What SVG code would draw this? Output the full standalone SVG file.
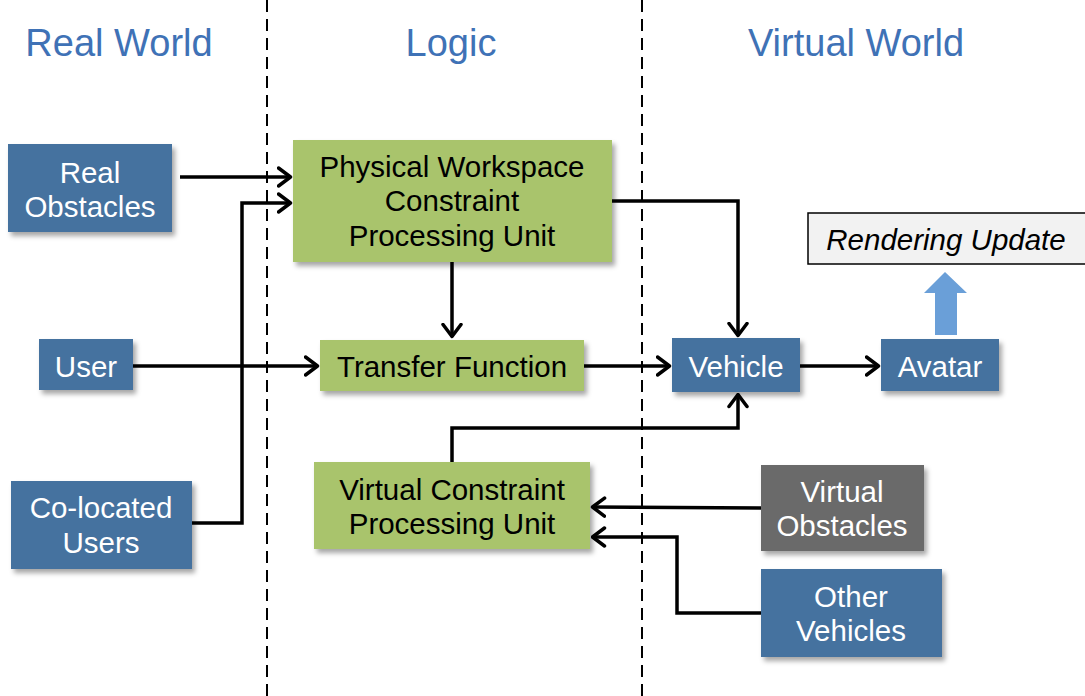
<svg xmlns="http://www.w3.org/2000/svg" width="1085" height="696" viewBox="0 0 1085 696">
<defs>
<filter id="sh" x="-20%" y="-20%" width="140%" height="150%">
<feDropShadow dx="3" dy="4" stdDeviation="2.5" flood-color="#000" flood-opacity="0.35"/>
</filter>
<marker id="ah" viewBox="0 0 16 22" refX="14.5" refY="11" markerWidth="16" markerHeight="22" markerUnits="userSpaceOnUse" orient="auto">
<path d="M2,2 L14,11 L2,20" fill="none" stroke="#000" stroke-width="3.5" stroke-linecap="round" stroke-linejoin="round"/>
</marker>
<style>
.hdr{font-family:"Liberation Sans",Arial,sans-serif;font-size:38px;fill:#3f72b6;text-anchor:middle}
.blue{fill:#44729f;filter:url(#sh)}
.green{fill:#a9c46c;filter:url(#sh)}
.gray{fill:#6a6a6a;filter:url(#sh)}
.wt{font-family:"Liberation Sans",Arial,sans-serif;font-size:29.5px;fill:#fff;text-anchor:middle}
.bt{font-family:"Liberation Sans",Arial,sans-serif;font-size:29.5px;fill:#000;text-anchor:middle}
.dash{stroke:#000;stroke-width:2;stroke-dasharray:12,7;fill:none}
.c{fill:none;stroke:#000;stroke-width:3.5;marker-end:url(#ah)}
</style>
</defs>
<rect width="1085" height="696" fill="#fff"/>
<g id="dividers">
<line class="dash" x1="267" y1="0" x2="267" y2="696"/>
<line class="dash" x1="642" y1="0" x2="642" y2="696"/>
</g>
<g id="headers">
<text class="hdr" x="119" y="56">Real World</text>
<text class="hdr" x="451" y="56">Logic</text>
<text class="hdr" x="856" y="56">Virtual World</text>
</g>
<g id="connectors">
<path class="c" d="M180,177 L291,177"/>
<path class="c" d="M192,523 L242,523 L242,203 L291,203"/>
<path class="c" d="M133,366 L318,366"/>
<path class="c" d="M452,262 L452,337"/>
<path class="c" d="M612,201 L738,201 L738,336"/>
<path class="c" d="M584,366 L670,366"/>
<path class="c" d="M800,366 L879,366"/>
<path class="c" d="M452,462 L452,428 L738,428 L738,394"/>
<path class="c" d="M761,508 L592,507"/>
<path class="c" d="M761,613 L677,613 L677,537 L592,537"/>
</g>
<g id="real-obstacles">
<rect class="blue" x="8" y="144" width="164" height="88"/>
<text class="wt" x="90" y="183">Real</text>
<text class="wt" x="90" y="217">Obstacles</text>
</g>
<g id="user">
<rect class="blue" x="39" y="339" width="94" height="51"/>
<text class="wt" x="86" y="377">User</text>
</g>
<g id="co-located-users">
<rect class="blue" x="11" y="481" width="181" height="88"/>
<text class="wt" x="101" y="518">Co-located</text>
<text class="wt" x="101" y="553">Users</text>
</g>
<g id="physical-workspace">
<rect class="green" x="293" y="140" width="319" height="122"/>
<text class="bt" x="452" y="177">Physical Workspace</text>
<text class="bt" x="452" y="211">Constraint</text>
<text class="bt" x="452" y="246">Processing Unit</text>
</g>
<g id="transfer-function">
<rect class="green" x="320" y="340" width="264" height="51"/>
<text class="bt" x="452" y="377">Transfer Function</text>
</g>
<g id="virtual-constraint">
<rect class="green" x="314" y="462" width="276" height="87"/>
<text class="bt" x="452" y="500">Virtual Constraint</text>
<text class="bt" x="452" y="534">Processing Unit</text>
</g>
<g id="vehicle">
<rect class="blue" x="672" y="338" width="128" height="54"/>
<text class="wt" x="736" y="377">Vehicle</text>
</g>
<g id="avatar">
<rect class="blue" x="881" y="339" width="118" height="52"/>
<text class="wt" x="940" y="377">Avatar</text>
</g>
<g id="rendering-update">
<rect x="808" y="213" width="280" height="51" fill="#f2f2f2" stroke="#000" stroke-width="1.5"/>
<text x="946" y="250" font-family="'Liberation Sans',Arial,sans-serif" font-size="29.5" font-style="italic" text-anchor="middle" fill="#000">Rendering Update</text>
</g>
<g id="render-arrow">
<polygon points="945,272 967,293 957,293 957,335 935,335 935,293 924,293" fill="#6a9fd8"/>
</g>
<g id="virtual-obstacles">
<rect class="gray" x="761" y="465" width="163" height="86"/>
<text class="wt" x="842" y="502">Virtual</text>
<text class="wt" x="842" y="536">Obstacles</text>
</g>
<g id="other-vehicles">
<rect class="blue" x="761" y="569" width="181" height="88"/>
<text class="wt" x="851" y="607">Other</text>
<text class="wt" x="851" y="641">Vehicles</text>
</g>
</svg>
